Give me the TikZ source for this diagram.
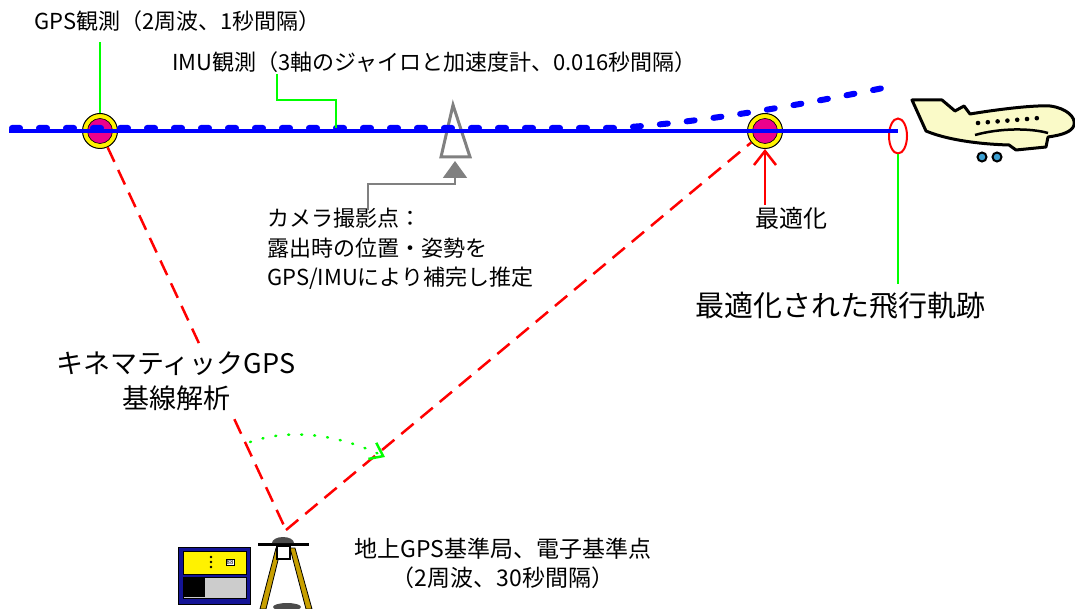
\documentclass[tikz,border=0pt]{standalone}
\usepackage{fontspec}
\setmainfont{Noto Sans CJK JP}
\usetikzlibrary{arrows.meta,shapes.geometric}

\definecolor{leadgreen}{RGB}{0,255,0}
\definecolor{planecream}{RGB}{250,250,200}
\definecolor{wheelblue}{RGB}{60,160,210}
\definecolor{legbrown}{RGB}{200,160,0}
\definecolor{unitnavy}{RGB}{20,20,150}

\begin{document}
\begin{tikzpicture}[x=1pt,y=-1pt,
    txt/.style={inner sep=2pt,font=\fontsize{22}{29.5}\selectfont},
    gpsdot/.style={circle,draw,line width=1,fill=yellow,minimum size=35,inner sep=0,
      path picture={\fill[magenta,draw=black,line width=.6] (path picture bounding box.center) circle (12.5);}},
    leader/.style={leadgreen,line width=2},
    track/.style={blue,line width=3.5},
    imutrack/.style={blue,line width=6,line cap=round,dash pattern=on 8 off 19},
    gpsbase/.style={red,line width=2.5,dash pattern=on 16 off 9},
    >={Straight Barb[length=14pt,width=22pt]}]
  \useasboundingbox (0,0) rectangle (1075,609);

  \node[gpsdot] (gps1) at (100,131) {};
  \node[gpsdot] (opt) at (765,131) {};
  \node[ellipse,draw=red,line width=2,minimum width=18,minimum height=35,inner sep=0] (end) at (898,136) {};

  % camera exposure mark
  \draw[gray,line width=3,fill=white] (453,105) -- (470,157) -- (441,157) -- cycle;
  \coordinate (cam) at (455,161);

  % flight tracks
  \coordinate (trackstart) at (9,131);
  \draw[track] (trackstart) -- (trackstart -| end);
  \coordinate (imustart) at (12,128);
  \coordinate (imuend) at (893,86);
  \draw[imutrack] (imustart) -- (615,128) .. controls (700,123) and (800,105) .. (imuend);

  \node[txt,anchor=west] (gpslabel) at (32,21) {GPS観測（2周波、1秒間隔）};
  \node[txt,anchor=west] (imulabel) at (170,62) {IMU観測（3軸のジャイロと加速度計、0.016秒間隔）};
  \coordinate (gpstop) at (100,42);
  \draw[leader] (gps1) -- (gpstop);
  \coordinate (imutag) at (277,74);
  \coordinate (imuhit) at (336,128);
  \draw[leader] (imutag) -- ++(0,26) -| (imuhit);

  \node[txt,anchor=north west,align=left] (camlabel) at (265,206)
    {カメラ撮影点：\\露出時の位置・姿勢を\\GPS/IMUにより補完し推定};
  \coordinate (camlead) at (368,210);
  \draw[gray,line width=2,-{Triangle[length=17pt,width=24pt]}] (camlead) |- (455,184) -- (cam);

  \node[txt,font=\fontsize{24}{28}\selectfont] (optlabel) at (791,218) {最適化};
  \draw[red,line width=2.5,->] (optlabel.north -| opt) -- (opt);

  \node[txt,font=\fontsize{29}{34}\selectfont] (trajlabel) at (840,306) {最適化された飛行軌跡};
  \draw[leader,shorten >=6pt] (end) -- (end |- trajlabel.north);

  % baselines to the reference station
  \coordinate (base) at (286,530);
  \draw[gpsbase] (gps1) -- (base);
  \draw[gpsbase] (base) -- (opt);
  \coordinate (sweepa) at (250,442);
  \coordinate (sweepb) at (385,457);
  \draw[leader,line width=2.5,line cap=round,dash pattern=on 1 off 12,
    -{Straight Barb[length=12pt,width=18pt]}] (sweepa) .. controls (300,425) and (350,440) .. (sweepb);

  \node[txt,fill=white,align=center,font=\fontsize{27}{35}\selectfont] (kinlabel) at (176,381)
    {キネマティックGPS\\基線解析};
  \node[txt,align=center,font=\fontsize{23}{29}\selectfont] (stalabel) at (503,563)
    {地上GPS基準局、電子基準点\\（2周波、30秒間隔）};

  % receiver
  \filldraw[fill=unitnavy,draw=black,line width=1] (178,547) rectangle (250,604);
  \filldraw[fill=yellow,draw=black] (183,551) rectangle (246,574);
  \filldraw[fill=black!20,draw=black] (183,577) rectangle (246,598);
  \fill (184,578) rectangle (205,597);
  \foreach \y in {557,562,567} \fill (211,\y) circle (1.3);
  \node[draw,fill=white,inner sep=.5pt,font=\fontsize{6}{6}\selectfont] (display) at (230,562) {88};

  % tripod and antenna
  \filldraw[fill=legbrown,draw=black,line width=.8] (276,548) -- (281,548) -- (266,609) -- (260,609) -- cycle;
  \filldraw[fill=legbrown,draw=black,line width=.8] (290,548) -- (295,548) -- (312,609) -- (306,609) -- cycle;
  \filldraw[fill=white,draw=black,line width=1.2] (277,546) rectangle (290,559);
  \draw[line width=3] (258,544) -- (309,544);
  \fill[black!70] (272,543) arc[start angle=180,end angle=360,x radius=11,y radius=6] -- cycle;
  \fill[black!70] (287,607) ellipse (14 and 4);

  % aircraft
  \filldraw[fill=planecream,draw=black,line width=3,line join=round]
    (912,100) -- (942,100) -- (955,111) -- (964,106) -- (970,114)
    .. controls (1000,109) and (1035,105) .. (1050,106)
    .. controls (1066,108) and (1076,117) .. (1074,125)
    .. controls (1072,132) and (1062,135) .. (1048,137)
    -- (1046,147) -- (1016,150) -- (1009,145)
    .. controls (975,144) and (945,139) .. (926,131) -- cycle;
  \draw[line width=2.5] (975,135) .. controls (1000,128) and (1030,128) .. (1048,133);
  \foreach \i in {0,...,6} \fill ({978+9.8*\i},{123-0.8*\i}) circle (2.3);
  \filldraw[fill=wheelblue,draw=black,line width=2] (982,157) circle (4.5) (997,157) circle (4.5);
\end{tikzpicture}
\end{document}
